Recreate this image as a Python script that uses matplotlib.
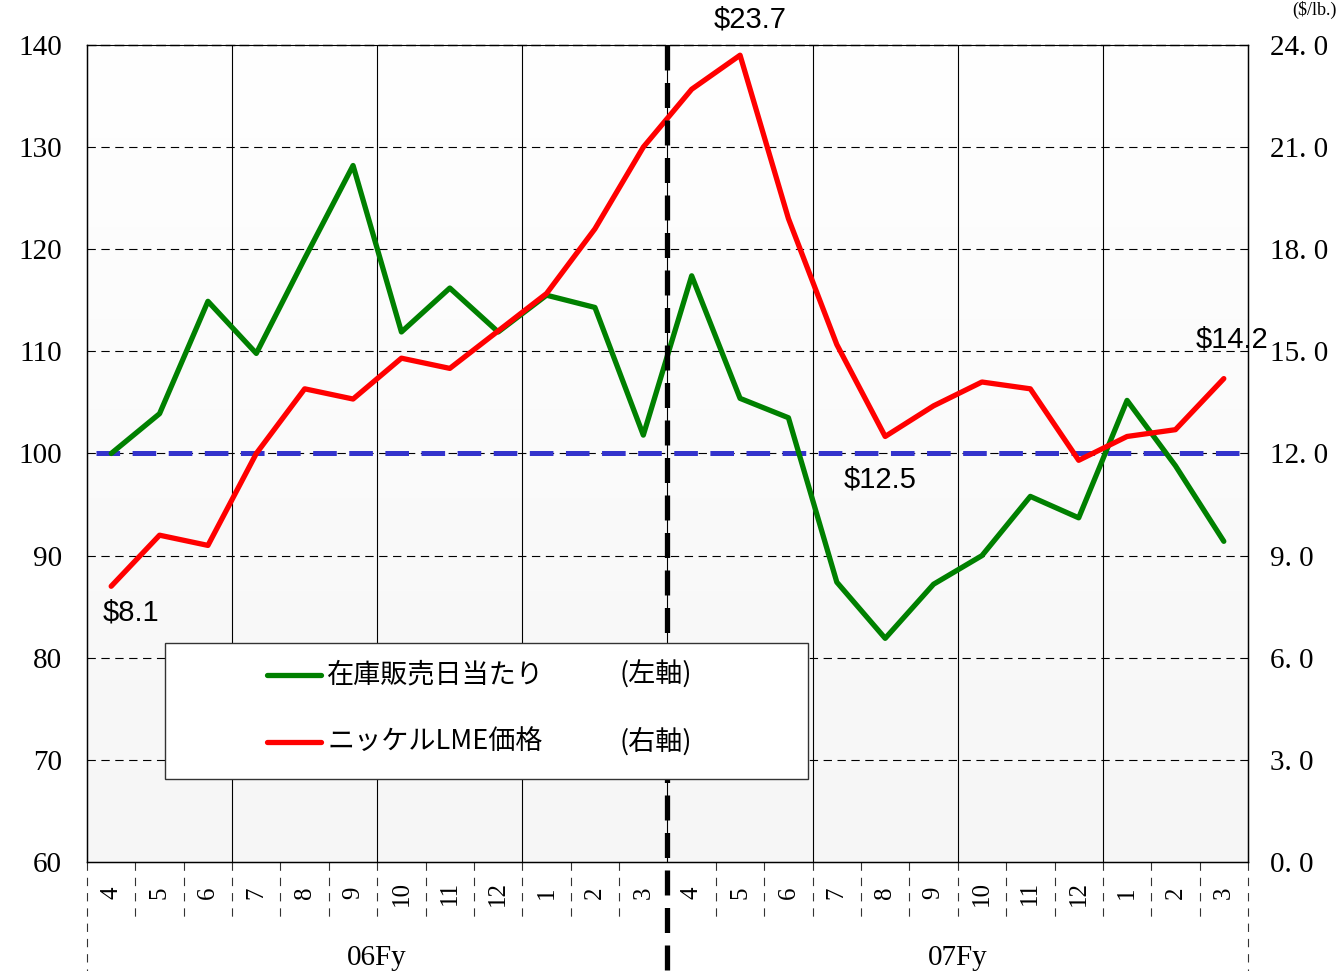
import matplotlib
matplotlib.use("Agg")
import matplotlib.pyplot as plt
import numpy as np
from matplotlib.transforms import blended_transform_factory
from matplotlib.lines import Line2D
from matplotlib.patches import Rectangle

plt.rcParams['lines.scale_dashes'] = False

# ---------------- data ----------------
months = ['4', '5', '6', '7', '8', '9', '10', '11', '12', '1', '2', '3'] * 2
fiscal_years = ['06Fy', '07Fy']
inventory_days = [100.0, 103.9, 114.9, 109.8, 119.1, 128.2, 111.9, 116.2, 111.9, 115.5, 114.3, 101.8,
                  117.4, 105.4, 103.5, 87.4, 81.9, 87.2, 90.0, 95.8, 93.7, 105.2, 98.8, 91.4]
nickel_price = [8.1, 9.6, 9.3, 12.0, 13.9, 13.6, 14.8, 14.5, 15.6, 16.7, 18.6, 21.0,
                22.7, 23.7, 18.9, 15.2, 12.5, 13.4, 14.1, 13.9, 11.8, 12.5, 12.7, 14.2]
baseline_days = 100
left_ticks = [60, 70, 80, 90, 100, 110, 120, 130, 140]
right_ticks = [0, 3, 6, 9, 12, 15, 18, 21, 24]
annotated_idx = [0, 13, 16, 23]
legend_labels = ['在庫販売日当たり', 'ニッケルLME価格']
legend_axes = ['(左軸)', '(右軸)']

SERIF = ['Liberation Serif', 'DejaVu Serif']
JP = ['Noto Sans CJK JP', 'DejaVu Sans']
SANS = ['Liberation Sans', 'DejaVu Sans']

n = len(months)
x = np.arange(n) + 0.5

fig = plt.figure(figsize=(13.39, 9.71), dpi=100)
ax = fig.add_axes([0.06497, 0.11226, 0.86707, 0.84140])
ax.set_xlim(0, n)
ax.set_ylim(left_ticks[0], left_ticks[-1])

# subtle background gradient
grad = np.linspace(0, 1, 256).reshape(-1, 1)
ax.imshow(grad, extent=(0, 1, 0, 1), transform=ax.transAxes, aspect='auto',
          cmap=matplotlib.colors.LinearSegmentedColormap.from_list('g', ['#f6f6f6', '#ffffff']),
          origin='lower', zorder=0)

# grids
for yv in left_ticks[1:-1]:
    ax.axhline(yv, color='black', lw=0.8, ls=(0, (6, 4)), zorder=1)
for xv in range(3, n, 3):
    ax.axvline(xv, color='black', lw=0.8, zorder=1)

ax.spines['top'].set_linestyle((0, (6, 4)))
for s in ax.spines.values():
    s.set_linewidth(1.0)
ax.set_xticks([])
ax.set_yticks(left_ticks)
ax.set_yticklabels([str(v) for v in left_ticks], fontsize=21, family=SERIF)
ax.tick_params(axis='y', length=0, pad=18)

ax.plot(x, inventory_days, color='#008000', lw=3.8, zorder=3, solid_capstyle='round')

ax2 = ax.twinx()
ax2.set_ylim(right_ticks[0], right_ticks[-1])
ax2.set_yticks(right_ticks)
ax2.set_yticklabels([('%.1f' % v).replace('.', '. ') for v in right_ticks], fontsize=21,
                    family=SERIF)
ax2.tick_params(axis='y', length=0, pad=16)
ax2.set_xlim(0, n)

# baseline (left axis value 100)
ax.axhline(baseline_days, xmin=0.008, xmax=0.992, color='#3333cc', lw=3.6,
           ls=(0, (17, 9)), zorder=2)

ax2.plot(x, nickel_price, color='#ff0000', lw=3.8, zorder=3, solid_capstyle='round')

# fiscal year divider
tb = blended_transform_factory(ax.transData, ax.transAxes)
ax2.plot([n / 2, n / 2], [1.0, -0.14], transform=tb, color='black', lw=3.8,
         ls=(0, (18, 9)), clip_on=False, zorder=4)

# annotations
offsets = {0: (14, -19), 13: (7, 26), 16: (-4, -31), 23: (6, 28)}
for i in annotated_idx:
    ax2.annotate('$%.1f' % nickel_price[i], (x[i], nickel_price[i]), textcoords='offset points',
                 xytext=offsets[i], ha='center', va='center', fontsize=21, family=SANS,
                 zorder=6)

# month labels and separators
for i in range(n):
    ax.text(x[i], -0.038, months[i], transform=tb, rotation=90, ha='center', va='center',
            fontsize=18, family=SERIF)
for k in range(n + 1):
    bottom = -0.134 if k % (n // 2) == 0 else -0.069
    if k == n // 2:
        continue
    ax.plot([k, k], [0, bottom], transform=tb, color='#333333', lw=0.8, ls=(0, (6, 5)),
            clip_on=False)
for j, fy in enumerate(fiscal_years):
    ax.text(n / 4 + j * n / 2, -0.1175, fy, transform=tb, ha='center', va='center',
            fontsize=21, family=SERIF)

# legend (manual box)
ax2.add_patch(Rectangle((0.067, 0.1016), 0.554, 0.1664, transform=ax2.transAxes,
                        facecolor='white', edgecolor='#333333', lw=1.0, zorder=7))
colors = ['#008000', '#ff0000']
ys = [0.229, 0.147]
for lab, axl, c, yy in zip(legend_labels, legend_axes, colors, ys):
    ax2.add_line(Line2D([0.155, 0.2015], [yy, yy], transform=ax2.transAxes, color=c, lw=3.8,
                        solid_capstyle='round', zorder=8))
    ax2.text(0.207, yy, lab, transform=ax2.transAxes, ha='left', va='center', fontsize=19.5,
             family=JP, zorder=8)
    ax2.text(0.459, yy, axl, transform=ax2.transAxes, ha='left', va='center', fontsize=19.5,
             family=JP, zorder=8)

# axis unit label (top right)
fig.text(1337 / 1339, 0.999, '($/lb.)', ha='right', va='top', fontsize=13, family=SERIF)

fig.savefig('out.png', dpi=100)
